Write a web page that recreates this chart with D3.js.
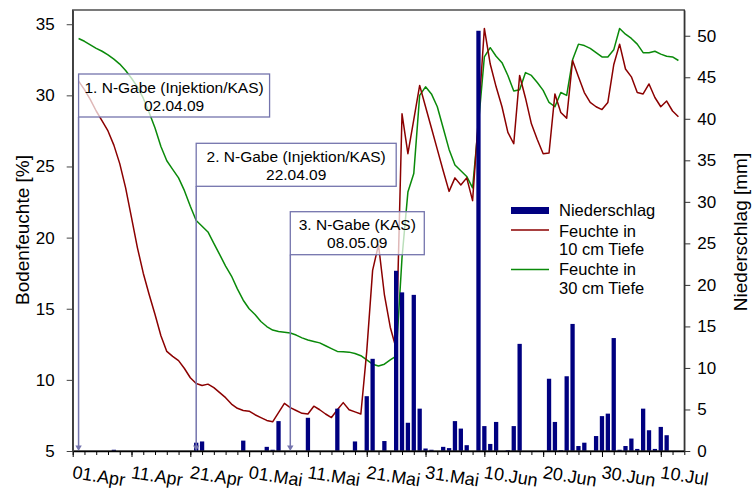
<!DOCTYPE html>
<html><head><meta charset="utf-8">
<script src="https://cdn.jsdelivr.net/npm/d3@7"></script>
<style>
body{margin:0;background:#fff}
svg{display:block}
text{font-family:"Liberation Sans",Arial,sans-serif;fill:#000}
</style>
</head><body>
<svg id="chart" width="752" height="490"></svg>
<script>
// ---------- DATA ----------
const tickDates  = ["2009-04-01","2009-04-11","2009-04-21","2009-05-01","2009-05-11","2009-05-21","2009-05-31","2009-06-10","2009-06-20","2009-06-30","2009-07-10"];
const tickLabels = ["01.Apr","11.Apr","21.Apr","01.Mai","11.Mai","21.Mai","31.Mai","10.Jun","20.Jun","30.Jun","10.Jul"];
const leftTicks  = [5,10,15,20,25,30,35];
const rightTicks = [0,5,10,15,20,25,30,35,40,45,50];

// Niederschlag (mm) per day
const rainDates = ["2009-04-08","2009-04-22","2009-04-23","2009-04-30","2009-05-04","2009-05-05","2009-05-06","2009-05-11","2009-05-16","2009-05-19","2009-05-21","2009-05-22","2009-05-24","2009-05-26","2009-05-27","2009-05-28","2009-05-29","2009-05-30","2009-05-31","2009-06-01","2009-06-03","2009-06-04","2009-06-05","2009-06-06","2009-06-07","2009-06-09","2009-06-10","2009-06-11","2009-06-12","2009-06-14","2009-06-15","2009-06-16","2009-06-21","2009-06-22","2009-06-23","2009-06-24","2009-06-25","2009-06-26","2009-06-27","2009-06-29","2009-06-30","2009-07-01","2009-07-02","2009-07-03","2009-07-04","2009-07-05","2009-07-06","2009-07-07","2009-07-08","2009-07-09","2009-07-10","2009-07-11"];
const rainMm = [0.15,1.0,1.15,1.25,0.5,0.15,3.6,4.0,5.1,1.15,6.6,11.1,1.2,21.7,19.1,3.4,18.8,5.1,0.3,0.15,0.5,0.35,3.6,2.7,0.7,50.6,3.0,0.85,3.5,0.1,3.0,12.9,8.7,3.5,0.1,9.0,15.3,0.6,1.0,1.8,4.2,4.5,13.6,0.15,0.6,1.5,0.25,5.1,2.5,0.25,2.9,1.9];

// Bodenfeuchte (%) daily, first value = 02.04.2009
const moistureStart = "2009-04-02";
const moisture10cm = [31.0,30.4,29.7,28.9,28.2,27.5,26.5,25.2,23.5,21.4,19.3,17.5,16.0,14.6,13.1,12.0,11.65,11.35,10.8,10.15,9.75,9.6,9.7,9.45,9.1,8.75,8.3,8.0,7.85,7.8,7.55,7.35,7.15,7.05,7.7,8.35,8.05,7.85,7.65,7.6,8.15,7.9,7.6,7.35,7.9,8.4,7.9,7.75,7.6,12.0,17.7,19.5,16.0,13.7,12.2,28.7,25.9,28.3,30.7,29.2,27.7,26.2,24.7,23.25,24.2,23.7,24.2,22.6,28.5,34.7,32.2,30.6,29.2,27.4,26.6,31.4,29.8,28.0,26.9,25.9,25.95,30.1,28.8,28.4,32.45,31.3,30.2,29.5,29.2,29.0,29.5,32.15,33.6,31.85,31.3,30.2,30.1,30.8,29.85,29.2,29.6,28.9,28.5];
const moisture30cm = [34.0,33.8,33.55,33.3,33.1,32.85,32.55,32.2,31.75,31.2,30.6,29.8,28.8,27.7,26.4,25.4,24.8,24.2,23.3,22.2,21.2,20.8,20.4,19.6,18.8,18.0,17.3,16.4,15.6,15.0,14.6,14.1,13.75,13.5,13.4,13.35,13.3,13.15,12.95,12.8,12.7,12.6,12.4,12.2,12.0,11.98,11.95,11.85,11.7,11.4,11.1,10.97,11.1,11.4,11.67,18.6,23.2,24.5,30.0,30.6,30.1,29.2,27.7,26.2,25.1,24.7,24.3,23.5,28.0,32.7,33.35,32.75,32.3,31.4,30.3,30.4,31.6,31.4,30.9,30.35,29.5,29.2,30.2,30.0,32.5,33.6,33.5,33.3,33.0,32.7,32.7,33.2,34.7,34.3,34.0,33.6,33.0,33.0,33.1,32.9,32.75,32.7,32.45];

// Annotations (N-Gabe)
const annDates = ["2009-04-02","2009-04-22","2009-05-08"];
const annLine1 = ["1. N-Gabe (Injektion/KAS)","2. N-Gabe (Injektion/KAS)","3. N-Gabe (KAS)"];
const annLine2 = ["02.04.09","22.04.09","08.05.09"];

// ---------- LAYOUT ----------
const plot = {left:72.7, right:684.3, top:10, bottom:451};
const annBoxTop = [74, 143.3, 211.7];
const annBoxW   = [191, 200, 134];
const annBoxH   = 43;
const annColor  = "#7474ad";
const barColor  = "#000080";
const red = "#8b0000", green = "#0a8a0a";

const parse = d3.utcParse("%Y-%m-%d");
const DAY = 864e5;

const x = d3.scaleUtc().domain([parse("2009-04-01"), parse("2009-07-14")]).range([plot.left, plot.right]);
const yL = d3.scaleLinear().domain([5,36]).range([plot.bottom, plot.top]);
const yR = d3.scaleLinear().domain([0,53.1]).range([plot.bottom, plot.top]);

const svg = d3.select("#chart");

// Lines
const m0 = parse(moistureStart).getTime();
const line = d3.line().x(d=>x(new Date(d.t))).y(d=>yL(d.v));
const s10 = moisture10cm.map((v,i)=>({t:m0+i*DAY, v}));
const s30 = moisture30cm.map((v,i)=>({t:m0+i*DAY, v}));
svg.append("path").datum(s30).attr("d",line).attr("fill","none").attr("stroke",green).attr("stroke-width",1.5).attr("stroke-linejoin","round");
svg.append("path").datum(s10).attr("d",line).attr("fill","none").attr("stroke",red).attr("stroke-width",1.5).attr("stroke-linejoin","round");

// Bars
const dayW = x(new Date(DAY + parse("2009-04-01").getTime())) - x(parse("2009-04-01"));
const bw = dayW*0.73;
svg.append("g").selectAll("rect").data(rainDates.map((d,i)=>({d:parse(d), v:rainMm[i]})))
  .join("rect")
  .attr("x", d=>x(d.d)-bw/2).attr("width", bw)
  .attr("y", d=>yR(d.v)).attr("height", d=>yR(0)-yR(d.v))
  .attr("fill", barColor);

// Frame
svg.append("rect").attr("x",plot.left).attr("y",plot.top)
  .attr("width",plot.right-plot.left).attr("height",plot.bottom-plot.top)
  .attr("fill","none").attr("stroke","#333").attr("stroke-width",1.3);

// Annotations
annDates.forEach((ds,i)=>{
  const ax = x(parse(ds));
  const g = svg.append("g");
  const top = annBoxTop[i], bw2 = annBoxW[i];
  g.append("line").attr("x1",ax).attr("x2",ax).attr("y1",top+annBoxH).attr("y2",plot.bottom-5)
    .attr("stroke",annColor).attr("stroke-width",1.5);
  g.append("path").attr("d",`M${ax-3.2},${plot.bottom-5.5}L${ax+3.2},${plot.bottom-5.5}L${ax},${plot.bottom}Z`).attr("fill",annColor);
  g.append("rect").attr("x",ax).attr("y",top).attr("width",bw2).attr("height",annBoxH)
    .attr("fill","#fff").attr("fill-opacity",0.72).attr("stroke",annColor).attr("stroke-width",1.3);
  g.append("text").attr("x",ax+bw2/2).attr("y",top+18.5).attr("text-anchor","middle").style("font-size","15.5px").text(annLine1[i]);
  g.append("text").attr("x",ax+bw2/2).attr("y",top+36.5).attr("text-anchor","middle").style("font-size","15.5px").text(annLine2[i]);
});

// X axis
const minorTicks = d3.range(0,105,2).map(k=>new Date(parse("2009-04-01").getTime()+k*DAY));
const gxm = svg.append("g").attr("transform",`translate(0,${plot.bottom})`)
  .call(d3.axisBottom(x).tickValues(minorTicks).tickSize(4).tickFormat(""));
gxm.select(".domain").remove();
gxm.selectAll("line").attr("stroke","#000");
const gx = svg.append("g").attr("transform",`translate(0,${plot.bottom})`)
  .call(d3.axisBottom(x).tickValues(tickDates.map(parse)).tickSize(6).tickSizeOuter(0)
    .tickFormat((d,i)=>tickLabels[i]));
gx.select(".domain").attr("stroke","#000").attr("stroke-width",1.3);
gx.selectAll("line").attr("stroke","#000");
gx.selectAll("text").attr("x",0).attr("y",0).attr("dy",null)
  .attr("text-anchor","start")
  .attr("transform","translate(-1.5,27) rotate(9)")
  .style("font-size","18px");

// Left axis
const gl = svg.append("g").attr("transform",`translate(${plot.left},0)`)
  .call(d3.axisLeft(yL).tickValues(leftTicks).tickSize(6).tickPadding(12).tickSizeOuter(0));
gl.select(".domain").attr("stroke","#444").attr("stroke-width",1.6);
gl.selectAll("line").attr("stroke","#444");
gl.selectAll("text").style("font-size","17px");

// Right axis
const gr = svg.append("g").attr("transform",`translate(${plot.right},0)`)
  .call(d3.axisRight(yR).tickValues(rightTicks).tickSize(6).tickPadding(7).tickSizeOuter(0));
gr.select(".domain").attr("stroke","#333").attr("stroke-width",1.3);
gr.selectAll("line").attr("stroke","#333");
gr.selectAll("text").style("font-size","17px");

// Axis titles
svg.append("text").attr("transform",`translate(29,230) rotate(-90)`).attr("text-anchor","middle")
  .style("font-size","19px").text("Bodenfeuchte [%]");
svg.append("text").attr("transform",`translate(747,232) rotate(-90)`).attr("text-anchor","middle")
  .style("font-size","19px").text("Niederschlag [mm]");

// Legend
const lg = svg.append("g");
lg.append("rect").attr("x",511).attr("y",207).attr("width",38).attr("height",7).attr("fill",barColor);
lg.append("text").attr("x",559).attr("y",216).style("font-size","16.5px").text("Niederschlag");
lg.append("line").attr("x1",511).attr("x2",549).attr("y1",230).attr("y2",230).attr("stroke",red).attr("stroke-width",1.5);
lg.append("text").attr("x",559).attr("y",236.5).style("font-size","16.5px").text("Feuchte in");
lg.append("text").attr("x",559).attr("y",255).style("font-size","16.5px").text("10 cm Tiefe");
lg.append("line").attr("x1",511).attr("x2",549).attr("y1",269.5).attr("y2",269.5).attr("stroke",green).attr("stroke-width",1.5);
lg.append("text").attr("x",559).attr("y",275).style("font-size","16.5px").text("Feuchte in");
lg.append("text").attr("x",559).attr("y",293.5).style("font-size","16.5px").text("30 cm Tiefe");
</script>
</body></html>
